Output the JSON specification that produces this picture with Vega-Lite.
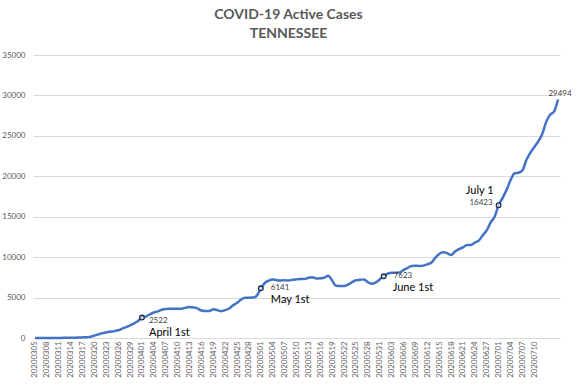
{
  "$schema": "https://vega.github.io/schema/vega-lite/v6.json",
  "autosize": {"type": "none"},
  "padding": {"left": 33, "top": 55, "right": 17, "bottom": 48},
  "width": 527,
  "height": 283,
  "background": "white",
  "config": {
    "font": "Lato",
    "view": {"stroke": null},
    "axis": {"labelFont": "Lato", "labelColor": "#595959", "labelFontSize": 8}
  },
  "title": {
    "text": ["COVID-19 Active Cases", "TENNESSEE"],
    "font": "Lato",
    "fontSize": 14,
    "fontWeight": "bold",
    "color": "#595959",
    "anchor": "middle",
    "offset": 10,
    "dx": -8,
    "lineHeight": 19
  },
  "datasets": {
    "cases": [
      {"date": "20200305", "value": 1}, {"date": "20200306", "value": 1}, {"date": "20200307", "value": 2},
      {"date": "20200308", "value": 3}, {"date": "20200309", "value": 6}, {"date": "20200310", "value": 7},
      {"date": "20200311", "value": 9}, {"date": "20200312", "value": 18}, {"date": "20200313", "value": 26},
      {"date": "20200314", "value": 32}, {"date": "20200315", "value": 39}, {"date": "20200316", "value": 52},
      {"date": "20200317", "value": 73}, {"date": "20200318", "value": 100}, {"date": "20200319", "value": 150},
      {"date": "20200320", "value": 300}, {"date": "20200321", "value": 450}, {"date": "20200322", "value": 600},
      {"date": "20200323", "value": 700}, {"date": "20200324", "value": 780}, {"date": "20200325", "value": 850},
      {"date": "20200326", "value": 950}, {"date": "20200327", "value": 1150}, {"date": "20200328", "value": 1350},
      {"date": "20200329", "value": 1550}, {"date": "20200330", "value": 1800}, {"date": "20200331", "value": 2100},
      {"date": "20200401", "value": 2522}, {"date": "20200402", "value": 2650}, {"date": "20200403", "value": 2930},
      {"date": "20200404", "value": 3150}, {"date": "20200405", "value": 3300}, {"date": "20200406", "value": 3500},
      {"date": "20200407", "value": 3600}, {"date": "20200408", "value": 3620}, {"date": "20200409", "value": 3620},
      {"date": "20200410", "value": 3620}, {"date": "20200411", "value": 3630}, {"date": "20200412", "value": 3750},
      {"date": "20200413", "value": 3830}, {"date": "20200414", "value": 3780}, {"date": "20200415", "value": 3670},
      {"date": "20200416", "value": 3400}, {"date": "20200417", "value": 3340}, {"date": "20200418", "value": 3350},
      {"date": "20200419", "value": 3550}, {"date": "20200420", "value": 3450}, {"date": "20200421", "value": 3320},
      {"date": "20200422", "value": 3450}, {"date": "20200423", "value": 3650}, {"date": "20200424", "value": 4050},
      {"date": "20200425", "value": 4350}, {"date": "20200426", "value": 4750}, {"date": "20200427", "value": 4980},
      {"date": "20200428", "value": 4980}, {"date": "20200429", "value": 5000}, {"date": "20200430", "value": 5250},
      {"date": "20200501", "value": 6141}, {"date": "20200502", "value": 6800}, {"date": "20200503", "value": 7100},
      {"date": "20200504", "value": 7250}, {"date": "20200505", "value": 7150}, {"date": "20200506", "value": 7100},
      {"date": "20200507", "value": 7150}, {"date": "20200508", "value": 7100}, {"date": "20200509", "value": 7200},
      {"date": "20200510", "value": 7250}, {"date": "20200511", "value": 7300}, {"date": "20200512", "value": 7300},
      {"date": "20200513", "value": 7450}, {"date": "20200514", "value": 7500}, {"date": "20200515", "value": 7350},
      {"date": "20200516", "value": 7380}, {"date": "20200517", "value": 7450}, {"date": "20200518", "value": 7700},
      {"date": "20200519", "value": 7100}, {"date": "20200520", "value": 6450}, {"date": "20200521", "value": 6430},
      {"date": "20200522", "value": 6430}, {"date": "20200523", "value": 6600}, {"date": "20200524", "value": 6900},
      {"date": "20200525", "value": 7150}, {"date": "20200526", "value": 7200}, {"date": "20200527", "value": 7250},
      {"date": "20200528", "value": 6900}, {"date": "20200529", "value": 6700}, {"date": "20200530", "value": 6880},
      {"date": "20200531", "value": 7250}, {"date": "20200601", "value": 7623}, {"date": "20200602", "value": 7950},
      {"date": "20200603", "value": 8080}, {"date": "20200604", "value": 8080}, {"date": "20200605", "value": 8100},
      {"date": "20200606", "value": 8400}, {"date": "20200607", "value": 8650}, {"date": "20200608", "value": 8900},
      {"date": "20200609", "value": 8950}, {"date": "20200610", "value": 8900}, {"date": "20200611", "value": 8950},
      {"date": "20200612", "value": 9100}, {"date": "20200613", "value": 9300}, {"date": "20200614", "value": 9900},
      {"date": "20200615", "value": 10400}, {"date": "20200616", "value": 10600}, {"date": "20200617", "value": 10500},
      {"date": "20200618", "value": 10250}, {"date": "20200619", "value": 10700}, {"date": "20200620", "value": 11000},
      {"date": "20200621", "value": 11200}, {"date": "20200622", "value": 11500}, {"date": "20200623", "value": 11500},
      {"date": "20200624", "value": 11800}, {"date": "20200625", "value": 12050}, {"date": "20200626", "value": 12700},
      {"date": "20200627", "value": 13300}, {"date": "20200629", "value": 14300}, {"date": "20200630", "value": 15000},
      {"date": "20200701", "value": 16423}, {"date": "20200702", "value": 17300}, {"date": "20200703", "value": 18300},
      {"date": "20200704", "value": 19500}, {"date": "20200705", "value": 20350}, {"date": "20200706", "value": 20440},
      {"date": "20200707", "value": 20700}, {"date": "20200708", "value": 22000}, {"date": "20200709", "value": 22900},
      {"date": "20200710", "value": 23600}, {"date": "20200711", "value": 24300}, {"date": "20200712", "value": 25200},
      {"date": "20200713", "value": 26700}, {"date": "20200714", "value": 27600}, {"date": "20200715", "value": 28000},
      {"date": "20200716", "value": 29494}
    ],
    "markers": [
      {"date": "20200401", "value": 2522},
      {"date": "20200501", "value": 6141},
      {"date": "20200601", "value": 7623},
      {"date": "20200701", "value": 16423}
    ]
  },
  "encoding": {
    "x": {
      "field": "date",
      "type": "ordinal",
      "scale": {"type": "point", "padding": 0.5},
      "axis": {
        "title": null,
        "labelAngle": -90,
        "labelPadding": 3,
        "labelFontSize": 7.8,
        "ticks": false,
        "domain": true,
        "domainColor": "#d9d9d9",
        "grid": false,
        "values": ["20200305","20200308","20200311","20200314","20200317","20200320","20200323","20200326","20200329","20200401","20200404","20200407","20200410","20200413","20200416","20200419","20200422","20200425","20200428","20200501","20200504","20200507","20200510","20200513","20200516","20200519","20200522","20200525","20200528","20200531","20200603","20200606","20200609","20200612","20200615","20200618","20200621","20200624","20200627","20200701","20200704","20200707","20200710"]
      }
    },
    "y": {
      "field": "value",
      "type": "quantitative",
      "scale": {"domain": [0, 35000], "nice": false},
      "axis": {
        "title": null,
        "values": [0, 5000, 10000, 15000, 20000, 25000, 30000, 35000],
        "format": "d",
        "ticks": false,
        "domain": false,
        "labelPadding": 8,
        "gridColor": "#d9d9d9",
        "gridWidth": 1
      }
    }
  },
  "layer": [
    {
      "data": {"name": "cases"},
      "mark": {"type": "line", "color": "#4472C4", "strokeWidth": 2.5, "interpolate": "monotone"}
    },
    {
      "data": {"name": "markers"},
      "mark": {"type": "point", "shape": "circle", "size": 22, "filled": true, "fill": "#c9d6ee", "stroke": "#1f2d4d", "strokeWidth": 1.3, "opacity": 1}
    },
    {
      "data": {"values": [{"date": "20200401", "value": 2522, "label": "2522"}]},
      "mark": {"type": "text", "align": "left", "baseline": "middle", "dx": 7, "dy": 3, "fontSize": 8, "color": "#404040", "font": "Lato"},
      "encoding": {"text": {"field": "label"}}
    },
    {
      "data": {"values": [{"date": "20200401", "value": 2522, "label": "April 1st"}]},
      "mark": {"type": "text", "align": "left", "baseline": "middle", "dx": 7, "dy": 15, "fontSize": 11, "color": "#000000", "font": "Lato"},
      "encoding": {"text": {"field": "label"}}
    },
    {
      "data": {"values": [{"date": "20200501", "value": 6141, "label": "6141"}]},
      "mark": {"type": "text", "align": "left", "baseline": "middle", "dx": 10, "dy": 0, "fontSize": 8, "color": "#404040", "font": "Lato"},
      "encoding": {"text": {"field": "label"}}
    },
    {
      "data": {"values": [{"date": "20200501", "value": 6141, "label": "May 1st"}]},
      "mark": {"type": "text", "align": "left", "baseline": "middle", "dx": 10, "dy": 12, "fontSize": 11, "color": "#000000", "font": "Lato"},
      "encoding": {"text": {"field": "label"}}
    },
    {
      "data": {"values": [{"date": "20200601", "value": 7623, "label": "7623"}]},
      "mark": {"type": "text", "align": "left", "baseline": "middle", "dx": 10, "dy": 0, "fontSize": 8, "color": "#404040", "font": "Lato"},
      "encoding": {"text": {"field": "label"}}
    },
    {
      "data": {"values": [{"date": "20200601", "value": 7623, "label": "June 1st"}]},
      "mark": {"type": "text", "align": "left", "baseline": "middle", "dx": 9, "dy": 12, "fontSize": 11, "color": "#000000", "font": "Lato"},
      "encoding": {"text": {"field": "label"}}
    },
    {
      "data": {"values": [{"date": "20200701", "value": 16423, "label": "16423"}]},
      "mark": {"type": "text", "align": "right", "baseline": "middle", "dx": -6, "dy": -2, "fontSize": 8, "color": "#404040", "font": "Lato"},
      "encoding": {"text": {"field": "label"}}
    },
    {
      "data": {"values": [{"date": "20200701", "value": 16423, "label": "July 1"}]},
      "mark": {"type": "text", "align": "right", "baseline": "middle", "dx": -5, "dy": -14, "fontSize": 11, "color": "#000000", "font": "Lato"},
      "encoding": {"text": {"field": "label"}}
    },
    {
      "data": {"values": [{"date": "20200716", "value": 29494, "label": "29494"}]},
      "mark": {"type": "text", "align": "center", "baseline": "middle", "dx": 2, "dy": -6, "fontSize": 8, "color": "#404040", "font": "Lato"},
      "encoding": {"text": {"field": "label"}}
    }
  ]
}
